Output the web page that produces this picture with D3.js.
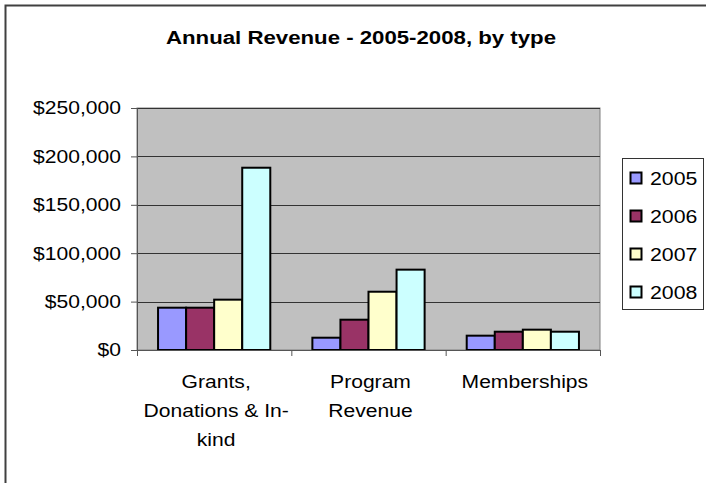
<!DOCTYPE html>
<html>
<head>
<meta charset="utf-8">
<script src="https://cdn.jsdelivr.net/npm/d3@7"></script>
<style>
  body { margin: 0; background: #fff; }
  text { font-family: "Liberation Sans", Arial, sans-serif; fill: #000; }
</style>
</head>
<body>
<div id="chart"></div>
<script>
// data
var categories = ["Grants, Donations & In-kind", "Program Revenue", "Memberships"];
var categoryLines = [["Grants,", "Donations & In-", "kind"], ["Program", "Revenue"], ["Memberships"]];
var years = ["2005", "2006", "2007", "2008"];
var values2005 = [43700, 12700, 14800];
var values2006 = [43700, 31300, 18900];
var values2007 = [52000, 60200, 21000];
var values2008 = [188300, 83000, 18900];
var yTicks = [0, 50000, 100000, 150000, 200000, 250000];
var colors = ["#9999FF", "#993366", "#FFFFCC", "#CCFFFF"];

var seriesValues = [values2005, values2006, values2007, values2008];

var svgWidth = 706;
var svgHeight = 483;

// plot area
var plot = { left: 137, right: 600, top: 108, bottom: 350 };
var stretch = 1.14;   // the source text is a bit wider than Arial

var svg = d3.select("#chart").append("svg")
  .attr("width", svgWidth)
  .attr("height", svgHeight);

// outer chart border (only left and top visible)
svg.append("rect")
  .attr("x", 5.5).attr("y", 5.5)
  .attr("width", 720).attr("height", 500)
  .attr("fill", "none")
  .attr("stroke", "#404040")
  .attr("stroke-width", 2);

// title
svg.append("text")
  .attr("transform", "translate(361, 44) scale(1.17,1)")
  .attr("text-anchor", "middle")
  .attr("font-size", "19px")
  .attr("font-weight", "bold")
  .text("Annual Revenue - 2005-2008, by type");

// scales
var xScale = d3.scaleBand()
  .domain(categories)
  .range([plot.left, plot.right]);

var xSub = d3.scaleBand()
  .domain(years)
  .range([0, xScale.bandwidth()])
  .paddingOuter(0.75);

var yScale = d3.scaleLinear()
  .domain([0, 250000])
  .range([plot.bottom, plot.top]);

// plot background
svg.append("rect")
  .attr("x", plot.left).attr("y", plot.top)
  .attr("width", plot.right - plot.left)
  .attr("height", plot.bottom - plot.top)
  .attr("fill", "#C0C0C0")
  .attr("stroke", "#808080")
  .attr("stroke-width", 1);

// gridlines
svg.append("g").selectAll("line")
  .data(yTicks.slice(1))
  .enter()
  .append("line")
  .attr("x1", plot.left).attr("x2", plot.right)
  .attr("y1", d => Math.round(yScale(d)) + 0.5)
  .attr("y2", d => Math.round(yScale(d)) + 0.5)
  .attr("stroke", "#333")
  .attr("stroke-width", 1);

// bars
var groups = svg.append("g").selectAll("g")
  .data(years)
  .enter()
  .append("g")
  .attr("fill", (d, i) => colors[i]);

groups.selectAll("rect")
  .data((year, i) => seriesValues[i].map((v, j) => ({ cat: categories[j], year: year, value: v })))
  .enter()
  .append("rect")
  .attr("x", d => xScale(d.cat) + xSub(d.year))
  .attr("y", d => yScale(d.value))
  .attr("width", xSub.bandwidth())
  .attr("height", d => plot.bottom - yScale(d.value))
  .attr("stroke", "#000")
  .attr("stroke-width", 2);

// y axis
var yAxis = d3.axisLeft(yScale)
  .tickValues(yTicks)
  .tickSize(6)
  .tickPadding(10)
  .tickFormat(d => "$" + d3.format(",")(d));

var yG = svg.append("g")
  .attr("transform", `translate(${plot.left}, 0)`)
  .call(yAxis);
yG.select(".domain").attr("stroke", "#555");
yG.selectAll(".tick line").attr("stroke", "#555");
yG.selectAll(".tick text")
  .attr("font-size", "18.5px")
  .attr("font-family", "Liberation Sans, Arial, sans-serif")
  .attr("x", -16 / stretch)
  .attr("transform", `scale(${stretch},1)`);

// x axis
var xAxis = d3.axisBottom(xScale)
  .tickValues([])
  .tickSizeOuter(0);

var xG = svg.append("g")
  .attr("transform", `translate(0, ${plot.bottom})`)
  .call(xAxis);
xG.select(".domain").attr("stroke", "#555");

// tick marks at category boundaries
xG.selectAll(".bound")
  .data(categories.concat(["end"]))
  .enter()
  .append("line")
  .attr("x1", (d, i) => plot.left + i * xScale.step() + 0.5)
  .attr("x2", (d, i) => plot.left + i * xScale.step() + 0.5)
  .attr("y1", 0).attr("y2", 6)
  .attr("stroke", "#555");

// category labels
categoryLines.forEach(function(lines, i) {
  var cx = xScale(categories[i]) + xScale.bandwidth() / 2 + 2;
  lines.forEach(function(line, k) {
    svg.append("text")
      .attr("transform", `translate(${cx}, ${388 + k * 29}) scale(${stretch},1)`)
      .attr("text-anchor", "middle")
      .attr("font-size", "18.5px")
      .text(line);
  });
});

// legend
var legend = svg.append("g");
legend.append("rect")
  .attr("x", 622.5).attr("y", 158.5)
  .attr("width", 81).attr("height", 151)
  .attr("fill", "#fff")
  .attr("stroke", "#333")
  .attr("stroke-width", 1);

var legendItems = legend.selectAll(".item")
  .data(years)
  .enter()
  .append("g")
  .attr("transform", (d, i) => `translate(630, ${178 + i * 38})`);

legendItems.append("rect")
  .attr("x", 0.5).attr("y", -5.5)
  .attr("width", 11).attr("height", 11)
  .attr("fill", (d, i) => colors[i])
  .attr("stroke", "#000")
  .attr("stroke-width", 2);

legendItems.append("text")
  .attr("transform", `translate(20, 7) scale(1.12,1)`)
  .attr("font-size", "19px")
  .text(d => d);
</script>
</body>
</html>
